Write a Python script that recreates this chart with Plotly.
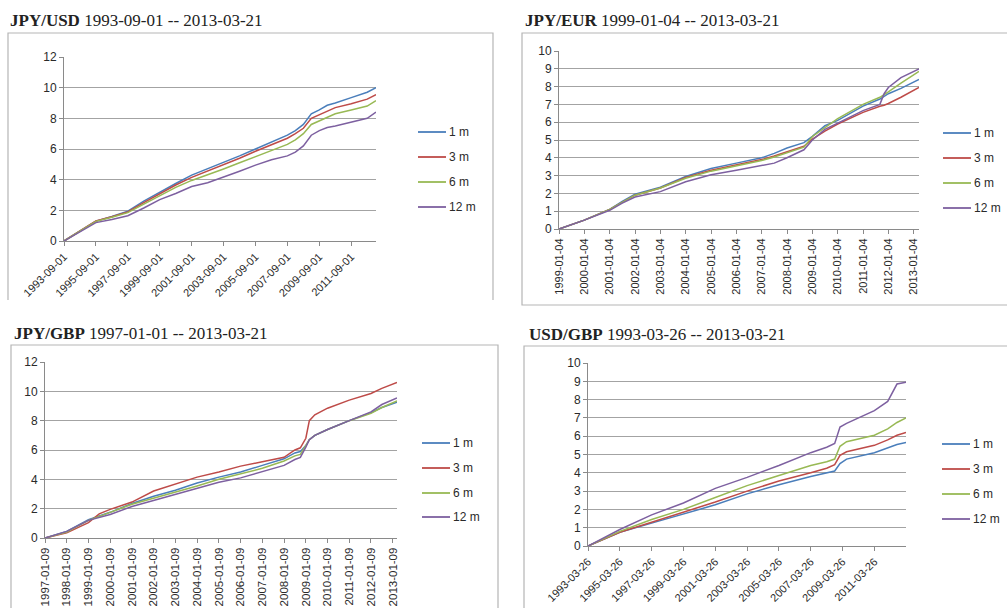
import plotly.graph_objects as go

W, H = 1007, 608

series_names = ["1 m", "3 m", "6 m", "12 m"]
colors = ["#4a7ebb", "#be4b48", "#98b954", "#7d60a0"]

# ---------------- JPY/USD ----------------
usd_jpy_dates = ["1993-09-01", "1994-09-01", "1995-09-01", "1996-09-01", "1997-09-01", "1998-09-01",
                 "1999-09-01", "2000-09-01", "2001-09-01", "2002-09-01", "2003-09-01", "2004-09-01",
                 "2005-09-01", "2006-09-01", "2007-09-01", "2008-03-01", "2008-09-01", "2009-03-01",
                 "2009-09-01", "2010-03-01", "2010-09-01", "2011-09-01", "2012-09-01", "2013-03-21"]
usd_jpy_1m = [0, 0.65, 1.3, 1.6, 1.95, 2.6, 3.2, 3.75, 4.3, 4.7, 5.1, 5.55, 6.0, 6.45, 6.9, 7.2, 7.6, 8.3,
              8.55, 8.85, 9.0, 9.35, 9.7, 10.0]
usd_jpy_3m = [0, 0.65, 1.3, 1.58, 1.9, 2.5, 3.1, 3.65, 4.15, 4.55, 4.95, 5.4, 5.85, 6.25, 6.7, 7.0, 7.35, 8.0,
              8.25, 8.5, 8.7, 8.95, 9.25, 9.55]
usd_jpy_6m = [0, 0.65, 1.28, 1.55, 1.85, 2.4, 2.95, 3.5, 3.95, 4.3, 4.7, 5.1, 5.5, 5.9, 6.3, 6.6, 7.0, 7.6,
              7.85, 8.1, 8.3, 8.55, 8.8, 9.15]
usd_jpy_12m = [0, 0.62, 1.2, 1.4, 1.65, 2.15, 2.7, 3.1, 3.55, 3.8, 4.15, 4.55, 4.95, 5.3, 5.55, 5.8, 6.2, 6.9,
               7.2, 7.4, 7.5, 7.75, 8.0, 8.4]
usd_jpy_ticks = ["1993-09-01", "1995-09-01", "1997-09-01", "1999-09-01", "2001-09-01", "2003-09-01",
                 "2005-09-01", "2007-09-01", "2009-09-01", "2011-09-01"]

# ---------------- JPY/EUR ----------------
eur_jpy_dates = ["1999-01-04", "2000-01-04", "2001-01-04", "2001-07-04", "2002-01-04", "2003-01-04",
                 "2004-01-04", "2005-01-04", "2006-01-04", "2007-01-04", "2007-07-04", "2008-01-04",
                 "2008-09-04", "2009-01-04", "2009-07-04", "2010-01-04", "2011-01-04", "2011-09-04",
                 "2011-11-04", "2012-01-04", "2012-07-04", "2013-03-21"]
eur_jpy_1m = [0, 0.5, 1.1, 1.55, 1.95, 2.35, 2.95, 3.4, 3.7, 4.0, 4.25, 4.55, 4.85, 5.2, 5.8, 6.1, 6.9,
              7.3, 7.45, 7.6, 7.9, 8.4]
eur_jpy_3m = [0, 0.5, 1.1, 1.5, 1.9, 2.3, 2.9, 3.3, 3.6, 3.9, 4.1, 4.35, 4.65, 5.05, 5.5, 5.9, 6.55,
              6.9, 6.95, 7.05, 7.4, 7.95]
eur_jpy_6m = [0, 0.5, 1.1, 1.5, 1.9, 2.3, 2.85, 3.25, 3.55, 3.85, 4.05, 4.3, 4.6, 5.2, 5.7, 6.2, 7.0,
              7.4, 7.55, 7.7, 8.2, 8.85]
eur_jpy_12m = [0, 0.5, 1.05, 1.45, 1.8, 2.1, 2.65, 3.05, 3.3, 3.55, 3.7, 4.0, 4.45, 5.0, 5.6, 5.95, 6.65,
               7.0, 7.6, 7.95, 8.5, 9.0]
eur_jpy_ticks = ["1999-01-04", "2000-01-04", "2001-01-04", "2002-01-04", "2003-01-04", "2004-01-04",
                 "2005-01-04", "2006-01-04", "2007-01-04", "2008-01-04", "2009-01-04", "2010-01-04",
                 "2011-01-04", "2012-01-04", "2013-01-04"]

# ---------------- JPY/GBP ----------------
gbp_jpy_dates = ["1997-01-09", "1998-01-09", "1999-01-09", "1999-07-09", "2000-01-09", "2001-01-09",
                 "2002-01-09", "2003-01-09", "2004-01-09", "2005-01-09", "2006-01-09", "2007-01-09",
                 "2008-01-09", "2008-07-09", "2008-10-09", "2009-01-09", "2009-03-09", "2009-06-09",
                 "2010-01-09", "2011-01-09", "2012-01-09", "2012-07-09", "2013-03-21"]
gbp_jpy_1m = [0, 0.45, 1.25, 1.5, 1.75, 2.35, 2.85, 3.25, 3.75, 4.15, 4.5, 4.95, 5.4, 5.8, 5.9, 6.3, 6.7,
              7.0, 7.4, 8.0, 8.55, 8.9, 9.25]
gbp_jpy_3m = [0, 0.35, 1.05, 1.65, 1.95, 2.45, 3.2, 3.65, 4.15, 4.5, 4.9, 5.2, 5.5, 6.0, 6.15, 6.8, 8.0,
              8.4, 8.85, 9.4, 9.85, 10.2, 10.6]
gbp_jpy_6m = [0, 0.4, 1.2, 1.5, 1.75, 2.3, 2.7, 3.1, 3.55, 4.0, 4.35, 4.75, 5.25, 5.6, 5.7, 6.3, 6.7,
              7.0, 7.4, 8.0, 8.5, 8.9, 9.35]
gbp_jpy_12m = [0, 0.45, 1.2, 1.4, 1.6, 2.15, 2.55, 2.95, 3.35, 3.8, 4.1, 4.5, 4.95, 5.35, 5.5, 6.2, 6.7,
               7.0, 7.4, 8.0, 8.6, 9.1, 9.55]
gbp_jpy_ticks = ["1997-01-09", "1998-01-09", "1999-01-09", "2000-01-09", "2001-01-09", "2002-01-09",
                 "2003-01-09", "2004-01-09", "2005-01-09", "2006-01-09", "2007-01-09", "2008-01-09",
                 "2009-01-09", "2010-01-09", "2011-01-09", "2012-01-09", "2013-01-09"]

# ---------------- USD/GBP ----------------
gbp_usd_dates = ["1993-03-26", "1995-03-26", "1997-03-26", "1999-03-26", "2001-03-26", "2003-03-26",
                 "2005-03-26", "2007-03-26", "2008-03-26", "2008-09-26", "2009-01-26", "2009-06-26",
                 "2011-03-26", "2012-01-26", "2012-08-26", "2013-03-21"]
gbp_usd_1m = [0, 0.75, 1.25, 1.75, 2.25, 2.85, 3.35, 3.8, 4.0, 4.1, 4.5, 4.75, 5.1, 5.35, 5.55, 5.65]
gbp_usd_3m = [0, 0.75, 1.3, 1.85, 2.4, 3.0, 3.55, 4.0, 4.25, 4.45, 4.95, 5.15, 5.5, 5.8, 6.05, 6.2]
gbp_usd_6m = [0, 0.8, 1.45, 2.0, 2.65, 3.3, 3.85, 4.4, 4.6, 4.75, 5.45, 5.7, 6.05, 6.4, 6.75, 7.0]
gbp_usd_12m = [0, 0.9, 1.7, 2.35, 3.15, 3.75, 4.4, 5.1, 5.4, 5.6, 6.5, 6.7, 7.4, 7.9, 8.85, 8.95]
gbp_usd_ticks = ["1993-03-26", "1995-03-26", "1997-03-26", "1999-03-26", "2001-03-26", "2003-03-26",
                 "2005-03-26", "2007-03-26", "2009-03-26", "2011-03-26"]


def px(x):
    return x / W


def py(y):
    return 1 - y / H


panels = [
    dict(pair="JPY/USD", span="1993-09-01 -- 2013-03-21", dates=usd_jpy_dates,
         vals=[usd_jpy_1m, usd_jpy_3m, usd_jpy_6m, usd_jpy_12m], ticks=usd_jpy_ticks,
         ymax=12, dtick=2, angle=-45, xdom=(64, 376), ydom=(57, 241),
         title_xy=(8, 21), leg_x=418, leg_y=[132, 157, 182, 207], tickfont=11),
    dict(pair="JPY/EUR", span="1999-01-04 -- 2013-03-21", dates=eur_jpy_dates,
         vals=[eur_jpy_1m, eur_jpy_3m, eur_jpy_6m, eur_jpy_12m], ticks=eur_jpy_ticks,
         ymax=10, dtick=1, angle=-90, xdom=(559, 919), ydom=(51, 229),
         title_xy=(523, 21), leg_x=943, leg_y=[133, 158, 183, 208], tickfont=11),
    dict(pair="JPY/GBP", span="1997-01-01 -- 2013-03-21", dates=gbp_jpy_dates,
         vals=[gbp_jpy_1m, gbp_jpy_3m, gbp_jpy_6m, gbp_jpy_12m], ticks=gbp_jpy_ticks,
         ymax=12, dtick=2, angle=-90, xdom=(45, 397), ydom=(362, 538),
         title_xy=(12, 333), leg_x=422, leg_y=[443, 468, 493, 517], tickfont=11.5),
    dict(pair="USD/GBP", span="1993-03-26 -- 2013-03-21", dates=gbp_usd_dates,
         vals=[gbp_usd_1m, gbp_usd_3m, gbp_usd_6m, gbp_usd_12m], ticks=gbp_usd_ticks,
         ymax=10, dtick=1, angle=-45, xdom=(588, 906), ydom=(363, 546),
         title_xy=(527, 334), leg_x=942, leg_y=[444, 469, 494, 519], tickfont=11),
]

fig = go.Figure()
layout = dict(
    width=W, height=H, margin=dict(l=0, r=0, t=0, b=0, pad=0, autoexpand=False),
    paper_bgcolor="white", plot_bgcolor="white", showlegend=False,
)
annotations = []
shapes = []

axis_gray = "#8a8a8a"
grid_gray = "#a3a3a3"
text_color = "#2a2a2a"

for i, p in enumerate(panels):
    k = i + 1
    xa = "x" if k == 1 else "x%d" % k
    ya = "y" if k == 1 else "y%d" % k
    for j in range(4):
        fig.add_trace(go.Scatter(
            x=p["dates"], y=p["vals"][j], mode="lines", name=series_names[j],
            line=dict(color=colors[j], width=1.5), xaxis=xa, yaxis=ya, showlegend=False,
        ))
    xname = "xaxis" if k == 1 else "xaxis%d" % k
    yname = "yaxis" if k == 1 else "yaxis%d" % k
    layout[xname] = dict(
        type="date", domain=[px(p["xdom"][0]), px(p["xdom"][1])],
        range=[p["dates"][0], p["dates"][-1]], anchor=ya,
        tickvals=p["ticks"], ticktext=p["ticks"], tickangle=p["angle"],
        showgrid=False, showline=True, linecolor=axis_gray, linewidth=1,
        ticks="outside", ticklen=4, tickcolor=axis_gray,
        tickfont=dict(family="Liberation Sans", size=p["tickfont"], color=text_color),
        zeroline=False, fixedrange=True, automargin=False,
    )
    layout[yname] = dict(
        domain=[py(p["ydom"][1]), py(p["ydom"][0])], range=[0, p["ymax"]], anchor=xa,
        dtick=p["dtick"], tick0=0, showgrid=True, gridcolor=grid_gray, gridwidth=1.4,
        showline=True, linecolor=axis_gray, linewidth=1,
        ticks="outside", ticklen=4, tickcolor=axis_gray,
        tickfont=dict(family="Liberation Sans", size=12, color=text_color),
        zeroline=False, fixedrange=True, automargin=False,
    )
    # legend (drawn as sample line + label, Excel style at right of each chart)
    for j in range(4):
        yy = p["leg_y"][j]
        shapes.append(dict(type="line", xref="paper", yref="paper",
                           x0=px(p["leg_x"]), x1=px(p["leg_x"] + 28), y0=py(yy), y1=py(yy),
                           line=dict(color=colors[j], width=1.8)))
        annotations.append(dict(
            xref="paper", yref="paper", x=px(p["leg_x"] + 29), y=py(yy),
            xanchor="left", yanchor="middle", showarrow=False, text=series_names[j],
            font=dict(family="Liberation Sans", size=12, color=text_color),
        ))
    annotations.append(dict(
        xref="paper", yref="paper", x=px(p["title_xy"][0]), y=py(p["title_xy"][1]),
        xanchor="left", yanchor="middle", showarrow=False,
        text="<b>%s</b> %s" % (p["pair"], p["span"]),
        font=dict(family="Liberation Serif", size=17, color="#222222"),
    ))

# panel frames (Excel chart-area borders, partly cropped in the collage)
frames = [
    [(8, 300), (8, 33), (493, 33), (493, 300)],
    [(1007, 33), (522, 33), (522, 305), (1007, 305)],
    [(11, 608), (11, 345), (498, 345), (498, 608)],
    [(524, 608), (524, 346), (1007, 346)],
]
for f in frames:
    path = "M " + " L ".join("%.5f,%.5f" % (px(a), py(b)) for a, b in f)
    shapes.append(dict(type="path", xref="paper", yref="paper", path=path,
                       line=dict(color="#b5b5b5", width=1.2)))

layout["annotations"] = annotations
layout["shapes"] = shapes
fig.update_layout(**layout)
fig.write_html("out.html", config={"displayModeBar": False},
               post_script="document.body.style.margin='0';document.body.style.overflow='hidden';")
